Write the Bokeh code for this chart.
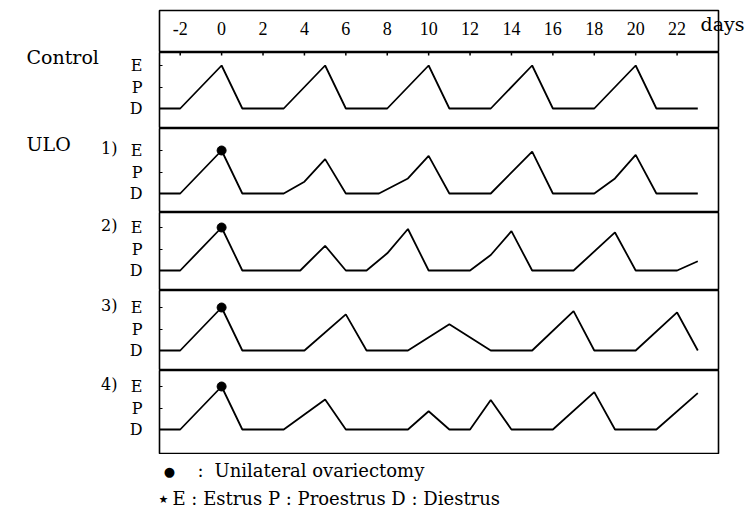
from bokeh.plotting import figure
from bokeh.layouts import column, row
from bokeh.models import Range1d, FixedTicker, LinearAxis
from bokeh.embed import file_html
from bokeh.resources import INLINE
from bokeh.core.properties import value

# ---------------- data ----------------
day_ticks = [-2, 0, 2, 4, 6, 8, 10, 12, 14, 16, 18, 20, 22]
day_tick_labels = ["-2", "0", "2", "4", "6", "8", "10", "12", "14", "16", "18", "20", "22"]
stage_levels = [0, 1, 2]
stage_labels = ["D", "P", "E"]

control_days = [-3, -2, 0, 1, 3, 5, 6, 8, 10, 11, 13, 15, 16, 18, 20, 21, 23]
control_stage = [0, 0, 2, 0, 0, 2, 0, 0, 2, 0, 0, 2, 0, 0, 2, 0, 0]

ulo1_days = [-3, -2, 0, 1, 3, 4, 5, 6, 7.6, 9, 10, 11, 13, 15, 16, 18, 19, 20, 21, 23]
ulo1_stage = [0, 0, 2, 0, 0, 0.55, 1.6, 0, 0, 0.7, 1.75, 0, 0, 1.95, 0, 0, 0.7, 1.8, 0, 0]

ulo2_days = [-3, -2, 0, 1, 3.8, 5, 6, 7, 8, 9, 10, 12, 13, 14, 15, 17, 19, 20, 22, 23]
ulo2_stage = [0, 0, 2, 0, 0, 1.15, 0, 0, 0.8, 1.93, 0, 0, 0.72, 1.83, 0, 0, 1.77, 0, 0, 0.43]

ulo3_days = [-3, -2, 0, 1, 4, 6, 7, 9, 11, 13, 15, 17, 18, 20, 22, 23]
ulo3_stage = [0, 0, 2, 0, 0, 1.68, 0, 0, 1.22, 0, 0, 1.83, 0, 0, 1.77, 0]

ulo4_days = [-3, -2, 0, 1, 3, 5, 6, 9, 10, 11, 12, 13, 14, 16, 18, 19, 21, 23]
ulo4_stage = [0, 0, 2, 0, 0, 1.4, 0, 0, 0.85, 0, 0, 1.37, 0, 0, 1.74, 0, 0, 1.69]

ovariectomy_day = 0
group_labels = ["Control", "ULO"]
ulo_numbers = ["1)", "2)", "3)", "4)"]
legend_dot = "●"
legend_star = "★"
legend_line1 = "Unilateral ovariectomy"
legend_line2 = "E : Estrus P : Proestrus D : Diestrus"
x_unit = "days"

# ---------------- layout constants ----------------
W = 747
LEFT = 159
RIGHT = 29
LW = 125                      # width of the left label strip
U = 21.5                      # px per stage step
panel_heights = [76, 84, 78, 80, 84]
panel_bottom = [20, 19, 20, 20, 25]
HEADER_H = 52
BODY_H = HEADER_H + sum(panel_heights)
FOOTER_H = 515 - BODY_H
SERIF = "DejaVu Serif"
NUMFONT = "Liberation Serif"

xr = Range1d(-3, 24)


def base_fig(h, yr, width=W - LW, xrange=None, top=0, yloc=None, left=LEFT - LW, right=RIGHT):
    p = figure(width=width, height=h, x_range=xrange if xrange is not None else xr, y_range=yr,
               output_backend="svg", toolbar_location=None,
               x_axis_location=None, y_axis_location=yloc,
               min_border_top=top, min_border_bottom=0,
               min_border_left=left, min_border_right=right)
    p.grid.grid_line_color = None
    p.background_fill_color = "white"
    p.border_fill_color = "white"
    p.outline_line_color = "black"
    p.outline_line_width = 1.6
    return p


# header with day numbers
header = base_fig(HEADER_H, Range1d(0, 1), top=10)
header.text(x=day_ticks, y=[0.56] * len(day_ticks), text=day_tick_labels,
            text_font=value(NUMFONT), text_font_size="18px", text_color="black",
            text_align="center", text_baseline="middle")
days_axis = LinearAxis(ticker=FixedTicker(ticks=[0.68]), major_label_overrides={0.68: x_unit},
                       axis_line_color=None, major_tick_line_color=None, major_tick_in=0,
                       major_tick_out=0, minor_tick_line_color=None, major_label_standoff=-18,
                       major_label_text_font=SERIF, major_label_text_font_size="19px",
                       major_label_text_color="black")
header.add_layout(days_axis, "right")

series = [(control_days, control_stage), (ulo1_days, ulo1_stage), (ulo2_days, ulo2_stage),
          (ulo3_days, ulo3_stage), (ulo4_days, ulo4_stage)]

panels = []
e_levels_px = []
top_px = HEADER_H
for i, (days, stage) in enumerate(series):
    h = panel_heights[i]
    m = panel_bottom[i]
    y0, y1 = -m / U, (h - m) / U
    e_levels_px.append(top_px + h - m - 2 * U)
    top_px += h
    p = base_fig(h, Range1d(y0, y1), yloc="left")
    ax = p.yaxis[0]
    ax.ticker = FixedTicker(ticks=stage_levels)
    ax.major_label_overrides = dict(zip(stage_levels, stage_labels))
    ax.axis_line_color = None
    ax.major_tick_in = 3
    ax.major_tick_out = 0
    ax.minor_tick_line_color = None
    ax.major_label_standoff = 17
    ax.major_label_text_font = SERIF
    ax.major_label_text_font_size = "16px"
    ax.major_label_text_color = "black"
    p.line(days, stage, line_width=1.8, line_color="black")
    if i == 0:
        p.segment(x0=day_ticks, y0=[y1] * len(day_ticks), x1=day_ticks,
                  y1=[y1 - 3 / U] * len(day_ticks), line_color="black", line_width=1.5)
    else:
        dot_y = stage[days.index(ovariectomy_day)]
        p.scatter([ovariectomy_day], [dot_y], size=9, color="black")
    panels.append(p)

# left strip with group labels (page-pixel coordinates, y downward)
strip = figure(width=LW, height=BODY_H, x_range=Range1d(0, LW), y_range=Range1d(BODY_H, 0),
               output_backend="svg", toolbar_location=None, x_axis_location=None,
               y_axis_location=None, min_border=0)
strip.grid.grid_line_color = None
strip.outline_line_color = None
strip.text(x=[26, 26], y=[e_levels_px[0] - 9, e_levels_px[1] - 7], text=group_labels,
           text_font=value(SERIF), text_font_size="19px", text_align="left",
           text_baseline="middle", text_color="black")
strip.text(x=[117] * 4, y=[e - 2 for e in e_levels_px[1:]], text=ulo_numbers,
           text_font=value(SERIF), text_font_size="16px", text_align="right",
           text_baseline="middle", text_color="black")

# footer legend (page-pixel coordinates)
footer = base_fig(FOOTER_H, Range1d(FOOTER_H, 0), width=W, xrange=Range1d(LEFT, W - RIGHT),
                  left=LEFT, right=RIGHT)
footer.outline_line_color = None
footer.text(x=[169], y=[17], text=[legend_dot], text_font=value("DejaVu Sans"), text_font_size="13px",
            text_align="center", text_baseline="middle", text_color="black")
footer.text(x=[197], y=[16], text=[":"], text_font=value(SERIF), text_font_size="18px",
            text_align="left", text_baseline="middle", text_color="black")
footer.text(x=[214], y=[16], text=[legend_line1], text_font=value(SERIF), text_font_size="18px",
            text_align="left", text_baseline="middle", text_color="black")
footer.text(x=[163], y=[45], text=[legend_star], text_font=value("DejaVu Sans"), text_font_size="11px",
            text_align="center", text_baseline="middle", text_color="black")
footer.text(x=[172], y=[44], text=[legend_line2], text_font=value(SERIF), text_font_size="18px",
            text_align="left", text_baseline="middle", text_color="black")

layout = column(row(strip, column(header, *panels, spacing=0), spacing=0), footer, spacing=0)
open("out.html", "w").write(file_html(layout, INLINE))
